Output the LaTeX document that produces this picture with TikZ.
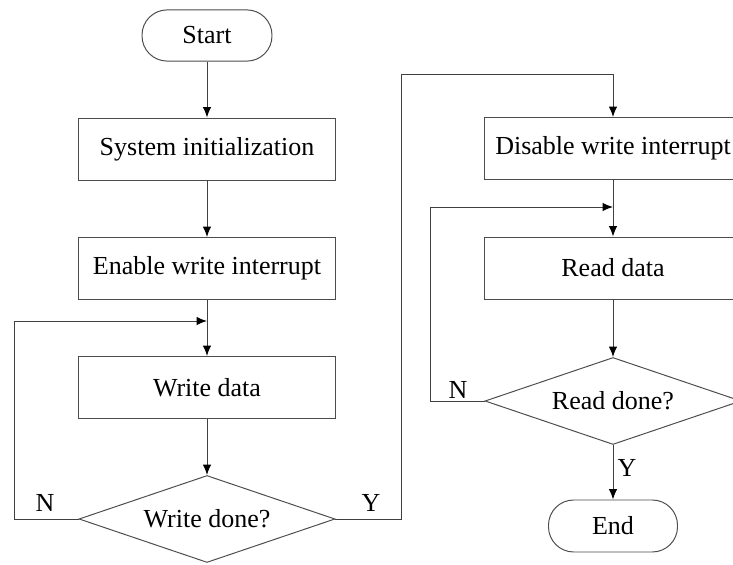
\documentclass[tikz,border=0pt]{standalone}
\usepackage{fontspec}
\setmainfont{Liberation Serif}
\usepackage{tikz}
\usetikzlibrary{arrows.meta,shapes.geometric}

\begin{document}
\begin{tikzpicture}[>={Latex[length=0.26cm,width=0.21cm,color=black]},font=\fontsize{18.5}{22}\selectfont,
  line width=0.7pt,
  proc/.style={draw=black!70,rectangle,minimum width=6.425cm,minimum height=1.55cm,inner sep=0pt},
  term/.style={draw=black!70,rectangle,rounded corners=0.63cm,minimum width=3.25cm,minimum height=1.28cm,inner sep=0pt},
  dec/.style={draw=black!70,diamond,aspect=2.94,minimum width=6.4cm,minimum height=2.175cm,inner sep=0pt},
  flow/.style={->,draw=black!75}]
  \clip (0,0) rectangle (18.325,-14.125);
  % left column
  \node[term] (start) at (5.175,-0.8875) {Start};
  \node[proc] (init) at (5.175,-3.725) {System initialization};
  \node[proc] (enw) at (5.175,-6.7125) {Enable write interrupt};
  \node[proc] (wdata) at (5.175,-9.6875) {Write data};
  \node[dec] (wdone) at (5.175,-12.975) {Write done?};
  % right column
  \node[proc] (disw) at (15.325,-3.7125) {Disable write interrupt};
  \node[proc] (rdata) at (15.325,-6.7) {Read data};
  \node[dec] (rdone) at (15.325,-10.025) {Read done?};
  \node[term,minimum width=3.225cm,minimum height=1.3cm] (end) at (15.325,-13.15) {End};
  % bend points
  \coordinate (wjoin) at (5.175,-8.025);
  \coordinate (wleft) at (0.35,-8.025);
  \coordinate (ytop) at (10.025,-1.85);
  \coordinate (rjoin) at (15.325,-5.175);
  \coordinate (rleft) at (10.75,-5.175);
  % connectors
  \draw[flow] (start) -- (init);
  \draw[flow] (init) -- (enw);
  \draw[flow] (enw) -- (wdata);
  \draw[flow] (wdata) -- (wdone);
  \draw[flow] (wdone.west) -| (wleft) -- (wjoin);
  \draw[flow] (wdone.east) -| (ytop) -| (disw.north);
  \draw[flow] (disw) -- (rdata);
  \draw[flow] (rdata) -- (rdone);
  \draw[flow] (rdone.west) -| (rleft) -- (rjoin);
  \draw[flow] (rdone) -- (end);
  % branch labels
  \node (wn) at (1.125,-12.575) {N};
  \node (wy) at (9.275,-12.575) {Y};
  \node (rn) at (11.45,-9.75) {N};
  \node (ry) at (15.675,-11.7) {Y};
\end{tikzpicture}
\end{document}
